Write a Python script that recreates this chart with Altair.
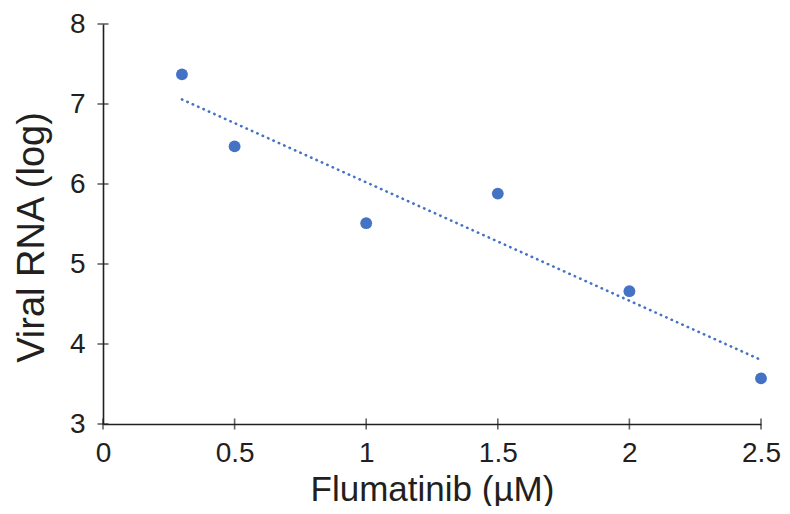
import altair as alt
import pandas as pd

dose = [0.3, 0.5, 1.0, 1.5, 2.0, 2.5]
viral_rna = [7.37, 6.47, 5.51, 5.88, 4.66, 3.57]
x_ticks = [0, 0.5, 1, 1.5, 2, 2.5]
y_ticks = [3, 4, 5, 6, 7, 8]

df = pd.DataFrame({"dose": dose, "rna": viral_rna})
xt = pd.DataFrame({"v": x_ticks})
yt = pd.DataFrame({"v": y_ticks})

AX = "#231F20"
BLUE = "#4472C4"
FONT = "Liberation Sans"

xscale = alt.Scale(domain=[0, 2.5], nice=False, zero=False)
yscale = alt.Scale(domain=[3, 8], nice=False, zero=False)

xaxis = alt.Axis(values=x_ticks, format="~g", ticks=False, grid=False,
                 labelFlush=False,
                 domainColor=AX, domainWidth=1.6, labelFontSize=28,
                 labelColor=AX, labelFont=FONT, labelPadding=15,
                 title="Flumatinib (µM)", titleFontSize=35, titleFont=FONT,
                 titleColor=AX, titleFontWeight="normal",
                 titleBaseline="alphabetic", titleY=76)
yaxis = alt.Axis(values=y_ticks, format="~g", ticks=False, grid=False,
                 labelFlush=False,
                 domainColor=AX, domainWidth=1.6, labelFontSize=28,
                 labelColor=AX, labelFont=FONT, labelPadding=18,
                 title="Viral RNA (log)", titleFontSize=38, titleFont=FONT,
                 titleColor=AX, titleFontWeight="normal", titlePadding=18,
                 titleY=213)

points = alt.Chart(df).mark_circle(size=140, color=BLUE, opacity=1).encode(
    x=alt.X("dose:Q", scale=xscale, axis=xaxis),
    y=alt.Y("rna:Q", scale=yscale, axis=yaxis),
)

trend = alt.Chart(df).transform_regression("dose", "rna").mark_line(
    color=BLUE, strokeWidth=2.6, strokeDash=[0.4, 5.5], strokeCap="round"
).encode(
    x=alt.X("dose:Q", scale=xscale),
    y=alt.Y("rna:Q", scale=yscale),
)

xticks = alt.Chart(xt).mark_tick(orient="vertical", size=11, thickness=1.6,
                                 color=AX, clip=False).encode(
    x=alt.X("v:Q", scale=xscale),
    y=alt.YDatum(3, scale=yscale),
)
yticks = alt.Chart(yt).mark_tick(orient="horizontal", size=11, thickness=1.6,
                                 color=AX, clip=False).encode(
    x=alt.XDatum(0, scale=xscale),
    y=alt.Y("v:Q", scale=yscale),
)

chart = alt.layer(trend, points, xticks, yticks).properties(
    width=658, height=400,
    autosize=alt.AutoSizeParams(type="none"),
    padding={"left": 95, "top": 16, "right": 21, "bottom": 82},
).configure_view(stroke=None)

chart.save("out.html", embed_options={"renderer": "svg", "actions": False})
